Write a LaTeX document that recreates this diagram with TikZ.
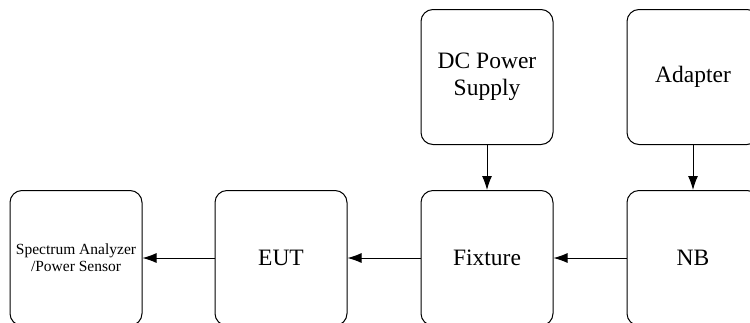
\documentclass[tikz,border=0pt]{standalone}
\usepackage{fontspec}
\setmainfont{Liberation Serif}
\usetikzlibrary{arrows.meta}
\begin{document}
\begin{tikzpicture}[x=1pt,y=-1pt,
  blk/.style={draw,line width=1pt,rounded corners=12pt,minimum width=132pt,minimum height=135pt,align=center,font=\fontsize{23.5}{27}\selectfont,inner sep=0pt},
  small/.style={font=\fontsize{15.5}{17}\selectfont},
  conn/.style={line width=1pt,-{Latex[length=14pt,width=10pt]}}]
\useasboundingbox (0,0) rectangle (750,322);
\clip (0,0) rectangle (750,322);
\node[blk,small] (sa) at (76,258) {Spectrum Analyzer\\/Power Sensor};
\node[blk] (eut) at (281,258) {EUT};
\node[blk] (fix) at (487,258) {Fixture};
\node[blk] (nb) at (693,258) {NB};
\node[blk] (dc) at (487,77) {DC Power\\Supply};
\node[blk] (ad) at (693,77) {Adapter};
\draw[conn] (nb.west) -- (fix.east);
\draw[conn] (fix.west) -- (eut.east);
\draw[conn] (eut.west) -- (sa.east);
\draw[conn] (dc.south) -- (fix.north);
\draw[conn] (ad.south) -- (nb.north);
\end{tikzpicture}
\end{document}
